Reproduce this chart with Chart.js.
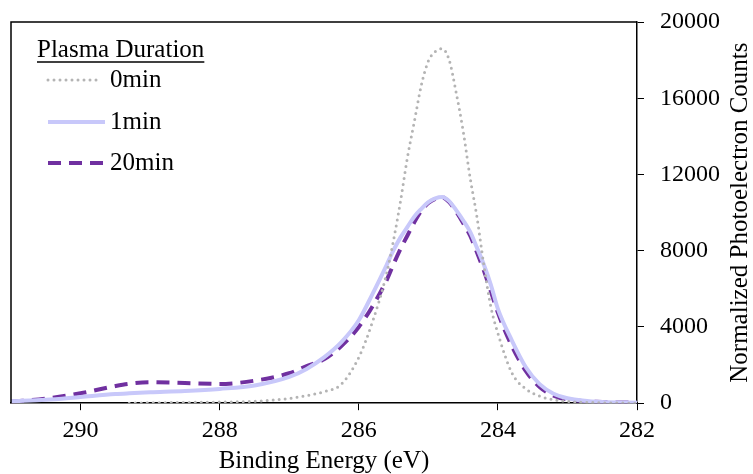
<!DOCTYPE html>
<html>
<head>
<meta charset="utf-8">
<script src="https://cdn.jsdelivr.net/npm/chart.js@4/dist/chart.umd.min.js"></script>
<style>
  html, body { margin: 0; padding: 0; background: #fff; }
  #wrap { width: 753px; height: 474px; }
</style>
</head>
<body>
<div id="wrap"><canvas id="xps"></canvas></div>
<script>
// binding energy (eV), shared by all three spectra
const energy = [291, 290.5, 290, 289.5, 289.3, 289, 288.5, 288, 287.5, 287,
  286.75, 286.5, 286.25, 286, 285.8, 285.6, 285.5, 285.4, 285.3, 285.2,
  285.1, 285.0, 284.9, 284.8, 284.7, 284.6, 284.5, 284.4, 284.3, 284.2,
  284.1, 284.0, 283.8, 283.6, 283.4, 283.2, 283.0, 282.5, 282];

const counts0min = [null, null, null, null, 0, 20, 40, 60, 100, 250,
  400, 600, 1000, 2400, 4300, 6800, 8560, 10600, 12900, 14800,
  16700, 17950, 18450, 18600, 18000, 16300, 14300, 11850, 9750, 7200,
  5040, 3675, 1600, 750, 370, 180, 90, 20, 0];

const counts1min = [100, 180, 330, 480, 520, 570, 640, 750, 930, 1380,
  1800, 2400, 3200, 4350, 5750, 7250, 8030, 8700, 9250, 9800,
  10200, 10550, 10750, 10820, 10600, 10130, 9600, 9000, 8150, 7250,
  6200, 4950, 3300, 1900, 1000, 500, 260, 60, 30];

const counts20min = [80, 240, 520, 900, 1020, 1100, 1060, 1010, 1180, 1570,
  1950, 2300, 3000, 4000, 5100, 6450, 7300, 8100, 8800, 9500,
  10100, 10500, 10720, 10800, 10550, 10050, 9450, 8800, 7900, 6950,
  5850, 4750, 3000, 1700, 850, 400, 200, 60, 30];

const seriesNames = ["0min", "1min", "20min"];
const legendTitle = "Plasma Duration";
const xTitle = "Binding Energy (eV)";
const yTitle = "Normalized Photoelectron Counts";

const serif = '"Liberation Serif", "Times New Roman", serif';

function toPoints(ys) {
  return energy.map((e, i) => ({ x: e, y: ys[i] }));
}

// box frame, rotated y title and the legend
const overlay = {
  id: "overlay",
  afterDraw(chart) {
    const ctx = chart.ctx;
    const a = chart.chartArea;
    ctx.save();
    ctx.strokeStyle = "#000";
    ctx.lineWidth = 1.5;
    ctx.beginPath();
    ctx.moveTo(a.left, a.bottom);
    ctx.lineTo(a.left, a.top);
    ctx.lineTo(a.right, a.top);
    ctx.stroke();

    ctx.fillStyle = "#000";
    ctx.font = "25px " + serif;
    ctx.save();
    ctx.translate(740, (a.top + a.bottom) / 2);
    ctx.rotate(-Math.PI / 2);
    ctx.textAlign = "center";
    ctx.textBaseline = "middle";
    ctx.fillText(yTitle, 0, 0);
    ctx.restore();

    // legend
    ctx.textAlign = "left";
    ctx.textBaseline = "middle";
    ctx.fillText(legendTitle, 37, 50);
    const w = ctx.measureText(legendTitle).width;
    ctx.lineWidth = 1.5;
    ctx.beginPath();
    ctx.moveTo(37, 62);
    ctx.lineTo(37 + w, 62);
    ctx.stroke();

    const rows = [80, 122, 163];
    chart.data.datasets.forEach((ds, i) => {
      const y = rows[i];
      ctx.save();
      ctx.strokeStyle = ds.borderColor;
      ctx.lineWidth = ds.borderWidth;
      ctx.lineCap = ds.borderCapStyle || "butt";
      ctx.setLineDash(ds.borderDash || []);
      ctx.beginPath();
      ctx.moveTo(48, y);
      ctx.lineTo(i === 0 ? 99 : 105, y);
      ctx.stroke();
      ctx.restore();
      ctx.fillText(ds.label, 110, y);
    });
    ctx.restore();
  }
};

new Chart(document.getElementById("xps").getContext("2d"), {
  type: "line",
  data: {
    datasets: [
      {
        label: seriesNames[0],
        data: toPoints(counts0min),
        borderColor: "#b4b4b4",
        borderWidth: 3,
        borderDash: [0, 6],
        borderCapStyle: "round",
        pointRadius: 0
      },
      {
        label: seriesNames[1],
        data: toPoints(counts1min),
        borderColor: "#c8c8fa",
        borderWidth: 4,
        pointRadius: 0
      },
      {
        label: seriesNames[2],
        data: toPoints(counts20min),
        borderColor: "#7030a0",
        borderWidth: 4,
        borderDash: [13, 8],
        pointRadius: 0
      }
    ]
  },
  options: {
    responsive: true,
    maintainAspectRatio: false,
    animation: false,
    cubicInterpolationMode: "monotone",
    layout: { padding: { left: 11, top: 22, right: 17, bottom: 0 } },
    scales: {
      x: {
        type: "linear",
        reverse: true,
        min: 282,
        max: 291,
        border: { color: "#000", width: 1.5 },
        grid: { drawOnChartArea: false, color: "#000", tickLength: 7 },
        ticks: {
          stepSize: 2,
          includeBounds: false,
          maxRotation: 0,
          color: "#000",
          padding: 6,
          font: { family: serif, size: 24 }
        },
        title: {
          display: true,
          text: xTitle,
          color: "#000",
          padding: { top: -2, bottom: 0 },
          font: { family: serif, size: 25, lineHeight: 1.0 }
        }
      },
      y: {
        position: "right",
        min: 0,
        max: 20000,
        border: { color: "#000", width: 1.5 },
        grid: { drawOnChartArea: false, color: "#000", tickLength: 7 },
        afterFit: scale => { scale.paddingTop = 0; scale.paddingBottom = 0; },
        ticks: {
          stepSize: 4000,
          color: "#000",
          padding: 16,
          font: { family: serif, size: 24 },
          callback: v => String(v)
        }
      }
    },
    plugins: {
      legend: { display: false },
      tooltip: { enabled: false }
    }
  },
  plugins: [overlay]
});
</script>
</body>
</html>
